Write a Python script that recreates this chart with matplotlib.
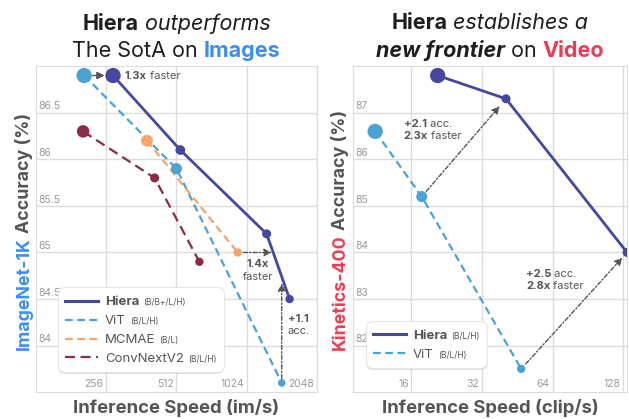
import numpy as np
import matplotlib
matplotlib.use("Agg")
import matplotlib.pyplot as plt
import matplotlib.patheffects as pe
from matplotlib.lines import Line2D
from matplotlib.offsetbox import (TextArea, HPacker, VPacker, DrawingArea,
                                  AnchoredOffsetbox, AnnotationBbox)

plt.rcParams['font.family'] = ['Inter', 'DejaVu Sans']

# ImageNet-1K, inference speed (im/s) vs top-1 accuracy
img_hiera_speed = [274, 532, 1246, 1563]
img_hiera_acc = [86.9, 86.1, 85.2, 84.5]
img_vit_speed = [206, 512, 1446]
img_vit_acc = [86.9, 85.9, 83.6]
img_mcmae_speed = [383, 937]
img_mcmae_acc = [86.2, 85.0]
img_convnext_speed = [204, 413, 642]
img_convnext_acc = [86.3, 85.8, 84.9]
img_xticks = [256, 512, 1024, 2048]
img_yticks = [84, 84.5, 85, 85.5, 86, 86.5]
img_yticklabels = ["84", "84.5", "85", "85.5", "86", "86.5"]

# Kinetics-400, inference speed (clip/s) vs top-1 accuracy
vid_hiera_speed = [20.7, 40.5, 133]
vid_hiera_acc = [87.8, 87.3, 84.0]
vid_vit_speed = [11.2, 17.7, 47]
vid_vit_acc = [86.6, 85.2, 81.5]
vid_xticks = [16, 32, 64, 128]
vid_yticks = [82, 83, 84, 85, 86, 87]
vid_yticklabels = ["82", "83", "84", "85", "86", "87"]

HIERA = '#46479e'
VIT = '#4ba3d3'
MCMAE = '#f5a46a'
CONVNEXT = '#8c2b45'
BLUE = '#3b8ef0'
RED = '#ef3b52'
DARK = '#1e1e1e'
GREY = '#555555'
TICK = '#9a9a9a'
GRID = '#dcdcdc'

VIT_LS = (0, (3.5, 2))
CNX_LS = (0, (4.5, 2.5))

fig = plt.figure(figsize=(6.29, 4.19), dpi=100)
ax1 = fig.add_axes([0.057, 0.064, 0.447, 0.778])
ax2 = fig.add_axes([0.561, 0.064, 0.436, 0.778])


def series(ax, x, y, color, ls, lw, sizes):
    ax.plot(x, y, color=color, ls=ls, lw=lw, zorder=3)
    ax.scatter(x, y, s=np.array(sizes) ** 2, color=color, linewidths=0, zorder=4)


def style(ax, xlim, ylim, xticks, yticks, ylabels):
    ax.set_xscale('log', base=2)
    ax.set_xlim(*xlim)
    ax.set_ylim(*ylim)
    ax.set_xticks(xticks)
    ax.set_yticks(yticks)
    ax.minorticks_off()
    ax.tick_params(length=0, labelbottom=False, labelleft=False)
    ax.grid(True, color=GRID, lw=1)
    ax.set_axisbelow(True)
    for s in ax.spines.values():
        s.set_color(GRID)
    for t in xticks:
        ax.annotate(str(t), xy=(t, 0), xycoords=ax.get_xaxis_transform(),
                    xytext=(-2, 2), textcoords='offset points',
                    ha='right', va='bottom', fontsize=7.5, color=TICK)
    for t, lab in zip(yticks, ylabels):
        ax.annotate(lab, xy=(0, t), xycoords=ax.get_yaxis_transform(),
                    xytext=(2, 1), textcoords='offset points',
                    ha='left', va='bottom', fontsize=7.5, color=TICK)


def title(ax, lines):
    rows = []
    for parts in lines:
        rows.append(HPacker(children=[TextArea(s, textprops=dict(fontsize=15.5, color=c, **kw))
                                      for s, c, kw in parts],
                            align='baseline', pad=0, sep=0))
    box = VPacker(children=rows, align='center', pad=0, sep=5)
    ax.add_artist(AnchoredOffsetbox(loc='lower center', child=box, bbox_to_anchor=(0.5, 1.0),
                                    bbox_transform=ax.transAxes, frameon=False,
                                    pad=0, borderpad=0.35))


def ylabel(xfig, colored, color):
    t = fig.text(xfig, 0.165, colored, rotation=90, ha='center', va='bottom',
                 fontsize=12.8, weight='bold', color=color)
    plt.annotate('Accuracy (%)', xy=(0.5, 1), xycoords=t, xytext=(0, 3),
                 textcoords='offset points', rotation=90, ha='center', va='bottom',
                 fontsize=12.8, weight='bold', color=GREY, annotation_clip=False)


def legend(ax, entries, anchor):
    rows = []
    for name, sizes, color, ls, lw, bold in entries:
        da = DrawingArea(24, 8, 0, 0)
        da.add_artist(Line2D([0, 24], [3.5, 3.5], color=color, ls=ls, lw=lw))
        txt = HPacker(children=[TextArea(name, textprops=dict(fontsize=9.5, color=GREY,
                                                              weight='bold' if bold else 'normal')),
                                TextArea(sizes, textprops=dict(fontsize=6, color=GREY))],
                      align='baseline', pad=0, sep=3)
        rows.append(HPacker(children=[da, txt], align='baseline', pad=0, sep=5))
    box = VPacker(children=rows, align='left', pad=0, sep=3.5)
    anch = AnchoredOffsetbox(loc='lower left', child=box, bbox_to_anchor=anchor,
                             bbox_transform=ax.transAxes, frameon=True, pad=0.5, borderpad=0)
    anch.patch.set_boxstyle('round,pad=0,rounding_size=0.5')
    anch.patch.set_facecolor('white')
    anch.patch.set_edgecolor('#e6e6e6')
    anch.patch.set_linewidth(0.8)
    anch.patch.set_path_effects([pe.withSimplePatchShadow(offset=(0.5, -1.5),
                                                          shadow_rgbFace='black', alpha=0.12)])
    anch.set_zorder(6)
    ax.add_artist(anch)


def note(ax, rows, xy, offset, align, box_align):
    lines = []
    for bold, rest in rows:
        kids = []
        if bold:
            kids.append(TextArea(bold, textprops=dict(fontsize=8, color=GREY, weight='bold')))
        if rest:
            kids.append(TextArea(rest, textprops=dict(fontsize=8, color=GREY)))
        lines.append(HPacker(children=kids, align='baseline', pad=0, sep=0))
    box = VPacker(children=lines, align=align, pad=0, sep=1.5)
    ax.add_artist(AnnotationBbox(box, xy, xybox=offset, xycoords='data',
                                 boxcoords='offset points', box_alignment=box_align,
                                 frameon=False, pad=0, annotation_clip=False, zorder=5))


def arrow(ax, src, dst, shrinkA, shrinkB, ls=(0, (3, 1.5, 1, 1.5))):
    ax.annotate('', xy=dst, xytext=src,
                arrowprops=dict(arrowstyle='-|>,head_length=0.45,head_width=0.22',
                                color=GREY, lw=1, ls=ls, shrinkA=shrinkA, shrinkB=shrinkB),
                zorder=5)


# ---- left: images ----
series(ax1, img_hiera_speed, img_hiera_acc, HIERA, '-', 2, [11, 7, 6.5, 6])
series(ax1, img_vit_speed, img_vit_acc, VIT, VIT_LS, 1.6, [11, 8, 5.5])
series(ax1, img_mcmae_speed, img_mcmae_acc, MCMAE, VIT_LS, 1.6, [8.5, 6])
series(ax1, img_convnext_speed, img_convnext_acc, CONVNEXT, CNX_LS, 1.6, [9, 6.5, 6])
style(ax1, (128, 2048), (83.5, 87.0), img_xticks, img_yticks, img_yticklabels)

arrow(ax1, (img_vit_speed[0], img_vit_acc[0]), (img_hiera_speed[0], img_hiera_acc[0]),
      6, 6, ls='-')
note(ax1, [("1.3x", " faster")], (img_hiera_speed[0], img_hiera_acc[0]), (8.5, 0),
     'left', (0, 0.5))
arrow(ax1, (img_mcmae_speed[1], img_mcmae_acc[1]), (img_mcmae_speed[1] * 1.4, img_mcmae_acc[1]),
      4, 0)
note(ax1, [("1.4x", ""), ("", "faster")], (img_mcmae_speed[1], img_mcmae_acc[1]), (14.5, -13),
     'center', (0.5, 0.5))
arrow(ax1, (img_vit_speed[2], img_vit_acc[2]), (img_vit_speed[2], img_vit_acc[2] + 1.1), 3, 2)
note(ax1, [("+1.1", ""), ("", "acc.")], (img_hiera_speed[3], img_hiera_acc[3]), (6.5, -19),
     'center', (0.5, 0.5))

legend(ax1, [("Hiera", "(B/B+/L/H)", HIERA, '-', 2.2, True),
             ("ViT", "(B/L/H)", VIT, VIT_LS, 1.6, False),
             ("MCMAE", "(B/L)", MCMAE, VIT_LS, 1.6, False),
             ("ConvNextV2", "(B/L/H)", CONVNEXT, CNX_LS, 1.6, False)],
       (0.078, 0.061))

title(ax1, [[("Hiera", DARK, dict(weight='bold')), (" outperforms", DARK, dict(style='italic'))],
            [("The SotA on ", DARK, {}), ("Images", BLUE, dict(weight='bold'))]])
ax1.set_xlabel("Inference Speed (im/s)", fontsize=13.3, weight='bold', color=GREY, labelpad=5)
ylabel(0.038, "ImageNet-1K", BLUE)

# ---- right: video ----
series(ax2, vid_hiera_speed, vid_hiera_acc, HIERA, '-', 2, [11, 6.5, 6.5])
series(ax2, vid_vit_speed, vid_vit_acc, VIT, VIT_LS, 1.6, [11, 8, 6])
style(ax2, (9, 133), (81, 88), vid_xticks, vid_yticks, vid_yticklabels)

arrow(ax2, (vid_vit_speed[1], vid_vit_acc[1]), (vid_hiera_speed[1], vid_hiera_acc[1]), 5, 7)
note(ax2, [("+2.1", " acc."), ("2.3x", " faster")], (vid_vit_speed[1], vid_vit_acc[1]),
     (-13, 48), 'left', (0, 0.5))
arrow(ax2, (vid_vit_speed[2], vid_vit_acc[2]), (vid_hiera_speed[2], vid_hiera_acc[2]), 5, 5)
note(ax2, [("+2.5", " acc."), ("2.8x", " faster")], (vid_vit_speed[2], vid_vit_acc[2]),
     (3.5, 64), 'left', (0, 0.5))

legend(ax2, [("Hiera", "(B/L/H)", HIERA, '-', 2.2, True),
             ("ViT", "(B/L/H)", VIT, VIT_LS, 1.6, False)],
       (0.047, 0.074))

title(ax2, [[("Hiera", DARK, dict(weight='bold')), (" establishes a", DARK, dict(style='italic'))],
            [("new frontier", DARK, dict(style='italic', weight='bold')), (" on ", DARK, {}),
             ("Video", RED, dict(weight='bold'))]])
ax2.set_xlabel("Inference Speed (clip/s)", fontsize=13.3, weight='bold', color=GREY, labelpad=5)
ylabel(0.541, "Kinetics-400", RED)

fig.savefig("out.png", dpi=100)
